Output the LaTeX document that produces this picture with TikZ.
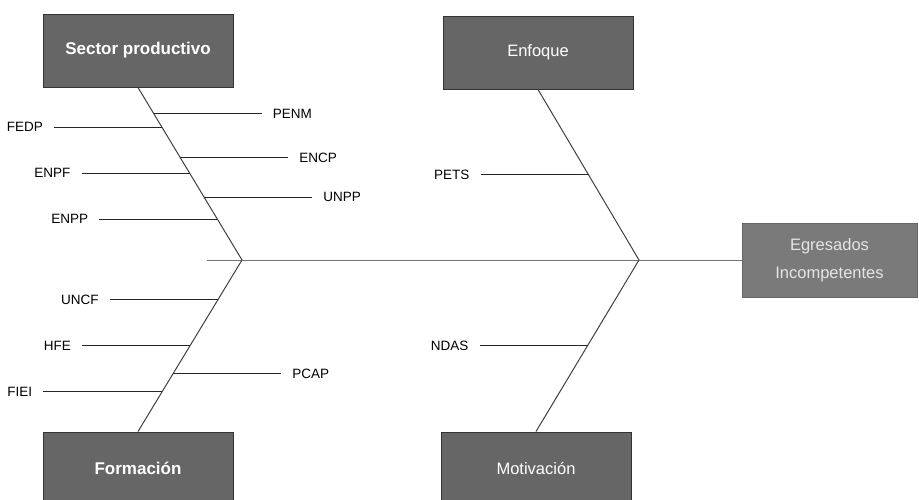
\documentclass[tikz,border=0pt]{standalone}
\usepackage{fontspec}
\setmainfont{Liberation Sans}
\usetikzlibrary{positioning,calc}

\begin{document}
\begin{tikzpicture}[
    x=1pt, y=-1pt,
    node distance=108pt,
    causa/.style={rectangle, minimum width=190pt, minimum height=73pt, draw=black!80, line width=1pt, fill=black!60, text=white, font=\fontsize{16.5}{18}\selectfont},
    causab/.style={causa, font=\fontsize{17}{19}\selectfont\bfseries},
    efecto/.style={rectangle, minimum width=175pt, minimum height=74pt, draw=black!60, line width=1pt, fill=black!52, text=black!10, align=center, font=\fontsize{16.5}{28}\selectfont},
    sub/.style={inner xsep=11pt, inner ysep=0pt, font=\fontsize{13.5}{15}\selectfont},
    espina/.style={line width=1pt, draw=black!75},
    rama/.style={line width=1pt, draw=black!85},
    eje/.style={line width=1pt, draw=black!55}
    ]
    \clip[use as bounding box] (0,0) rectangle (919,499);

    \node (sector) [causab] at (138,50.5) {Sector productivo};
    \node (enfoque) [causa] at (538,52.5) {Enfoque};
    \node (formacion) [causab] at (138,468.5) {Formación};
    \node (motivacion) [causa] at (536,468.5) {Motivación};
    \node (egresados) [efecto] at (829.5,260) {Egresados\\Incompetentes};

    \coordinate (cola) at (207,260);
    \coordinate (jl) at (242,260);
    \coordinate (jr) at (639,260);

    \draw[eje] (cola) -- (egresados);
    \draw[espina] (sector.south) -- (jl) -- (formacion.north);
    \draw[espina] (enfoque.south) -- (jr) -- (motivacion.north);

    \coordinate (penm-p) at ($(sector.south)!0.150!(jl)$);
    \coordinate (fedp-p) at ($(sector.south)!0.231!(jl)$);
    \coordinate (encp-p) at ($(sector.south)!0.405!(jl)$);
    \coordinate (enpf-p) at ($(sector.south)!0.497!(jl)$);
    \coordinate (unpp-p) at ($(sector.south)!0.636!(jl)$);
    \coordinate (enpp-p) at ($(sector.south)!0.763!(jl)$);

    \node (penm) [sub, right=of penm-p] {PENM};
    \node (fedp) [sub, left=of fedp-p] {FEDP};
    \node (encp) [sub, right=of encp-p] {ENCP};
    \node (enpf) [sub, left=of enpf-p] {ENPF};
    \node (unpp) [sub, right=of unpp-p] {UNPP};
    \node (enpp) [sub, left=118pt of enpp-p] {ENPP};

    \draw[rama] (penm-p) -- (penm);
    \draw[rama] (fedp) -- (fedp-p);
    \draw[rama] (encp-p) -- (encp);
    \draw[rama] (enpf) -- (enpf-p);
    \draw[rama] (unpp-p) -- (unpp);
    \draw[rama] (enpp) -- (enpp-p);

    \coordinate (uncf-p) at ($(jl)!0.233!(formacion.north)$);
    \coordinate (hfe-p) at ($(jl)!0.500!(formacion.north)$);
    \coordinate (pcap-p) at ($(jl)!0.663!(formacion.north)$);
    \coordinate (fiei-p) at ($(jl)!0.767!(formacion.north)$);

    \node (uncf) [sub, left=of uncf-p] {UNCF};
    \node (hfe) [sub, left=of hfe-p] {HFE};
    \node (pcap) [sub, right=of pcap-p] {PCAP};
    \node (fiei) [sub, left=119pt of fiei-p] {FIEI};

    \draw[rama] (uncf) -- (uncf-p);
    \draw[rama] (hfe) -- (hfe-p);
    \draw[rama] (pcap-p) -- (pcap);
    \draw[rama] (fiei) -- (fiei-p);

    \coordinate (pets-p) at ($(enfoque.south)!0.5!(jr)$);
    \coordinate (ndas-p) at ($(jr)!0.5!(motivacion.north)$);

    \node (pets) [sub, left=of pets-p] {PETS};
    \node (ndas) [sub, left=of ndas-p] {NDAS};

    \draw[rama] (pets) -- (pets-p);
    \draw[rama] (ndas) -- (ndas-p);
\end{tikzpicture}
\end{document}
